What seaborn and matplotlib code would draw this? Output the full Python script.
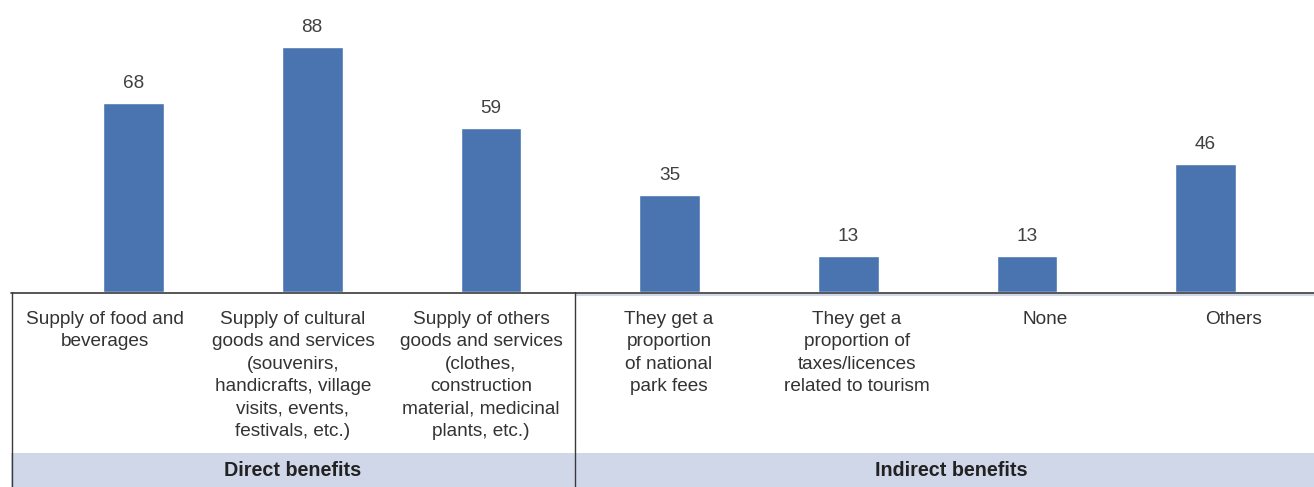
import matplotlib
matplotlib.use("Agg")
import matplotlib.pyplot as plt
import seaborn as sns
import pandas as pd

# Survey results: benefits to local communities
categories = [
    "Supply of food and\nbeverages",
    "Supply of cultural\ngoods and services\n(souvenirs,\nhandicrafts, village\nvisits, events,\nfestivals, etc.)",
    "Supply of others\ngoods and services\n(clothes,\nconstruction\nmaterial, medicinal\nplants, etc.)",
    "They get a\nproportion\nof national\npark fees",
    "They get a\nproportion of\ntaxes/licences\nrelated to tourism",
    "None",
    "Others",
]
values = [68, 88, 59, 35, 13, 13, 46]
groups = ["Direct benefits", "Indirect benefits"]
group_sizes = [3, 4]

BAR = "#4a74b0"
TXT = "#333333"
BAND = "#d0d7e9"
W, H = 1314, 487

sns.set_theme(style="white")
plt.rcParams["font.family"] = ["Liberation Sans", "DejaVu Sans"]

fig = plt.figure(figsize=(W / 100, H / 100), dpi=100)

# Bar area: from the top of the figure down to the baseline
base_px = 292
left_px = 11
ax = fig.add_axes([left_px / W, (H - base_px) / H, (W - left_px) / W, base_px / H])
df = pd.DataFrame({"cat": categories, "val": values})
sns.barplot(data=df, x="cat", y="val", color=BAR, width=0.34, saturation=1, ax=ax)
ax.set_xlim(-0.686, 6.607)
ax.set_ylim(0, 105)
ax.set_axis_off()
for i, v in enumerate(values):
    ax.annotate(str(v), (i, v), xytext=(0, 8), textcoords="offset points",
                ha="center", va="bottom", fontsize=13.7, color="#404040")

# Category table below the bars, laid out in pixel units
tab = fig.add_axes([0, 0, 1, (H - base_px) / H])
tab.set_xlim(0, W)
tab.set_ylim(H, base_px)
tab.set_axis_off()

split_px = 575
right_px = W
col_w = 188
band_top = 453
# header band for the group names
tab.fill_between([left_px, right_px], band_top, H, color=BAND, lw=0)
# thin light rule under the indirect section
tab.plot([split_px, right_px], [294.5, 294.5], color=BAND, lw=1.5, solid_capstyle="butt")
# frame lines
tab.plot([left_px, right_px], [base_px + 0.5, base_px + 0.5], color="#3a3a3a", lw=1.2)
tab.plot([left_px + 0.5, left_px + 0.5], [base_px, H], color="#3a3a3a", lw=1.0)
tab.plot([split_px, split_px], [base_px, H], color="#3a3a3a", lw=1.0)

# category labels centred in their columns
starts = [left_px, split_px]
k = 0
for a, n, g in zip(starts, group_sizes, groups):
    for j in range(n):
        cx = a + col_w * (j + 0.5)
        tab.text(cx, 311, categories[k], ha="center", va="top", fontsize=13.7,
                 color=TXT, linespacing=1.42)
        k += 1
    gx = a + col_w * n / 2
    tab.text(gx, 471, g, ha="center", va="center", fontsize=14.2, fontweight="bold",
             color="#222222")

fig.savefig("out.png", dpi=100)
